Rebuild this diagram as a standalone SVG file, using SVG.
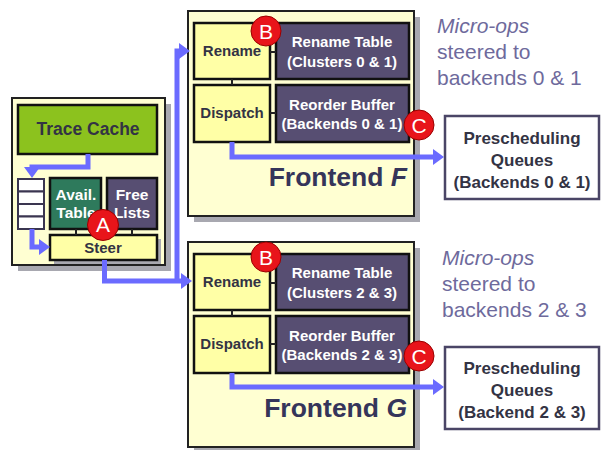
<svg xmlns="http://www.w3.org/2000/svg" width="601" height="450" viewBox="0 0 601 450">
<defs>
<style>
.outer{fill:#FFFFD2;stroke:#222;stroke-width:2}
.shadow{fill:#A8A8B0}
.yel{fill:#FFFFA6;stroke:#111;stroke-width:2.5}
.dark{fill:#574E72;stroke:#111;stroke-width:2.5}
.wt{font-family:"Liberation Sans",Arial,sans-serif;font-weight:bold;font-size:15px;fill:#fff;text-anchor:middle}
.dt{font-family:"Liberation Sans",Arial,sans-serif;font-weight:bold;font-size:15px;fill:#333344;text-anchor:middle}
.big{font-family:"Liberation Sans",Arial,sans-serif;font-weight:bold;font-size:26.5px;fill:#35355A;text-anchor:end}
.note{font-family:"Liberation Sans",Arial,sans-serif;font-size:21px;fill:#6E6A9C}
.pq{font-family:"Liberation Sans",Arial,sans-serif;font-weight:bold;font-size:17px;fill:#333344;text-anchor:middle}
.pqbox{fill:#fff;stroke:#4A4566;stroke-width:2.5}
.tick{stroke:#222;stroke-width:2;fill:none}
.flow{stroke:#6B6BFF;stroke-width:5;fill:none}
.badge{fill:#E8141A;stroke:#9A0000;stroke-width:1}
.bl{font-family:"Liberation Sans",Arial,sans-serif;font-size:21px;fill:#fff;text-anchor:middle}
</style>
<marker id="ah" markerUnits="userSpaceOnUse" markerWidth="12" markerHeight="16" refX="4" refY="8" orient="auto">
<path d="M0,0 L11,8 L0,16 Z" fill="#6B6BFF"/>
</marker>
</defs>
<rect width="601" height="450" fill="#fff"/>

<g id="left-unit">
<rect class="shadow" x="18" y="104" width="153" height="167"/>
<rect class="outer" x="12" y="98" width="153" height="167"/>
</g>
<g id="trace-cache">
<rect x="18" y="105" width="139" height="49" fill="#8CC21E" stroke="#111" stroke-width="2.5"/>
<text class="dt" x="88" y="135" style="font-size:17.5px">Trace Cache</text>
</g>
<g id="queue">
<rect x="18" y="179" width="26" height="12.5" fill="#fff" stroke="#3A3550" stroke-width="2"/>
<rect x="18" y="191.5" width="26" height="12.5" fill="#fff" stroke="#3A3550" stroke-width="2"/>
<rect x="18" y="204" width="26" height="12.5" fill="#fff" stroke="#3A3550" stroke-width="2"/>
<rect x="18" y="216.5" width="26" height="12.5" fill="#fff" stroke="#3A3550" stroke-width="2"/>
</g>
<g id="avail-table">
<rect x="50" y="178" width="51" height="51" fill="#2E7A5C" stroke="#111" stroke-width="2.5"/>
<text class="wt" x="76" y="200" style="font-size:15.5px">Avail.</text>
<text class="wt" x="76" y="218" style="font-size:15.5px">Table</text>
</g>
<g id="free-lists">
<rect class="dark" x="107" y="178" width="50" height="51"/>
<text class="wt" x="132" y="200" style="font-size:15.5px">Free</text>
<text class="wt" x="132" y="218" style="font-size:15.5px">Lists</text>
</g>
<g id="steer">
<rect class="shadow" x="54" y="239" width="107" height="25"/>
<rect class="yel" x="50" y="235" width="107" height="25"/>
<text class="dt" x="103" y="253">Steer</text>
</g>

<g id="frontend-F">
<rect class="shadow" x="194" y="17" width="226" height="205"/>
<rect class="outer" x="188" y="11" width="226" height="205"/>
<text class="big" x="407" y="186">Frontend <tspan font-style="italic">F</tspan></text>
</g>
<g id="rename-F">
<rect class="yel" x="194" y="23" width="76" height="56"/>
<text class="dt" x="232" y="56">Rename</text>
</g>
<g id="rename-table-F">
<rect class="dark" x="276" y="23" width="133" height="56"/>
<text class="wt" x="342" y="47">Rename Table</text>
<text class="wt" x="342" y="67">(Clusters 0 &amp; 1)</text>
</g>
<g id="dispatch-F">
<rect class="yel" x="194" y="85" width="76" height="57"/>
<text class="dt" x="232" y="118">Dispatch</text>
</g>
<g id="rob-F">
<rect class="dark" x="276" y="85" width="133" height="57"/>
<text class="wt" x="342" y="110">Reorder Buffer</text>
<text class="wt" x="342" y="129">(Backends 0 &amp; 1)</text>
</g>

<g id="frontend-G">
<rect class="shadow" x="194" y="248" width="226" height="205"/>
<rect class="outer" x="188" y="242" width="226" height="205"/>
<text class="big" x="407" y="417">Frontend <tspan font-style="italic">G</tspan></text>
</g>
<g id="rename-G">
<rect class="yel" x="194" y="254" width="76" height="56"/>
<text class="dt" x="232" y="287">Rename</text>
</g>
<g id="rename-table-G">
<rect class="dark" x="276" y="254" width="133" height="56"/>
<text class="wt" x="342" y="278">Rename Table</text>
<text class="wt" x="342" y="298">(Clusters 2 &amp; 3)</text>
</g>
<g id="dispatch-G">
<rect class="yel" x="194" y="316" width="76" height="57"/>
<text class="dt" x="232" y="349">Dispatch</text>
</g>
<g id="rob-G">
<rect class="dark" x="276" y="316" width="133" height="57"/>
<text class="wt" x="342" y="341">Reorder Buffer</text>
<text class="wt" x="342" y="360">(Backends 2 &amp; 3)</text>
</g>

<g id="presched-F">
<rect class="pqbox" x="445" y="116" width="154" height="83"/>
<text class="pq" x="522" y="144">Prescheduling</text>
<text class="pq" x="522" y="166">Queues</text>
<text class="pq" x="522" y="188">(Backends 0 &amp; 1)</text>
</g>
<g id="presched-G">
<rect class="pqbox" x="445" y="347" width="154" height="82"/>
<text class="pq" x="522" y="374">Prescheduling</text>
<text class="pq" x="522" y="396">Queues</text>
<text class="pq" x="522" y="418">(Backend 2 &amp; 3)</text>
</g>

<g id="notes">
<text class="note" x="437" y="33"><tspan font-style="italic">Micro-ops</tspan></text>
<text class="note" x="437" y="59">steered to</text>
<text class="note" x="437" y="85">backends 0 &amp; 1</text>
<text class="note" x="442" y="265"><tspan font-style="italic">Micro-ops</tspan></text>
<text class="note" x="442" y="291">steered to</text>
<text class="note" x="442" y="317">backends 2 &amp; 3</text>
</g>

<g id="connectors">
<path class="tick" d="M76,229V235M132,229V235"/>
<path class="tick" d="M270,52H276M232,79V85M270,113H276"/>
<path class="tick" d="M270,283H276M232,310V316M270,344H276"/>
<path class="flow" d="M88,154V167H32V171" marker-end="url(#ah)"/>
<path class="flow" d="M32,229V247H43" marker-end="url(#ah)"/>
<path class="flow" d="M104.5,260V281H185" marker-end="url(#ah)"/>
<path class="flow" d="M177,281V51H183" marker-end="url(#ah)"/>
<path class="flow" d="M232,142V157H437" marker-end="url(#ah)"/>
<path class="flow" d="M232,373V387H437" marker-end="url(#ah)"/>
</g>

<g id="badges">
<circle class="badge" cx="103" cy="225" r="15.5"/>
<text class="bl" x="103" y="232">A</text>
<circle class="badge" cx="266" cy="31" r="15"/>
<text class="bl" x="266" y="38.5">B</text>
<circle class="badge" cx="266" cy="257" r="15"/>
<text class="bl" x="266" y="264.5">B</text>
<circle class="badge" cx="419" cy="125" r="15"/>
<text class="bl" x="419" y="132.5">C</text>
<circle class="badge" cx="419" cy="356" r="15"/>
<text class="bl" x="419" y="363.5">C</text>
</g>
</svg>
